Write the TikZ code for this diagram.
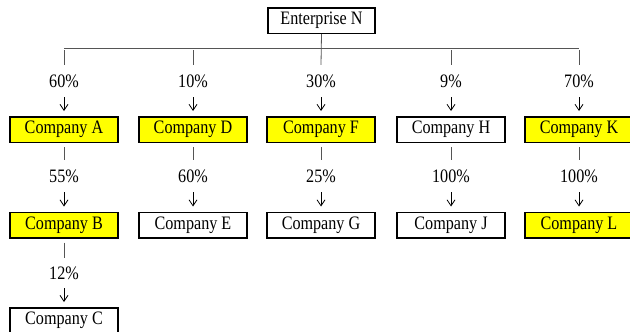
\documentclass[tikz,border=0pt]{standalone}
\usepackage{fontspec}
\setmainfont{Liberation Serif}[FakeStretch=0.85]
\usetikzlibrary{arrows.meta}
\definecolor{boxyellow}{HTML}{FFFF00}
\definecolor{tickgray}{HTML}{555555}
\tikzset{
  company/.style={draw=black, line width=1.5pt, minimum width=108pt, minimum height=25.5pt, inner sep=0pt, font=\fontsize{19}{22}\selectfont},
  owned/.style={company, fill=boxyellow},
  plain/.style={company, fill=white},
  pct/.style={inner sep=0pt, minimum height=32pt, font=\fontsize{19}{22}\selectfont},
  tickline/.style={draw=tickgray, line width=0.8pt},
  arrowline/.style={draw=black, line width=0.8pt, -{Straight Barb[length=6pt,width=8pt]}}
}
\begin{document}
\begin{tikzpicture}[x=1pt,y=-1pt]
\useasboundingbox (0,0) rectangle (630,332);
\clip (0,0) rectangle (630,332);
% top
\node[plain, minimum width=107pt] (N) at (321.5,20.5) {Enterprise N};
% row 1 labels
\node[pct] (pA) at (64,81) {60\%};
\node[pct] (pD) at (193,81) {10\%};
\node[pct] (pF) at (321,81) {30\%};
\node[pct] (pH) at (451,81) {9\%};
\node[pct] (pK) at (579,81) {70\%};
% row 1 boxes
\node[owned] (A) at (64,129.5) {Company A};
\node[owned] (D) at (193,129.5) {Company D};
\node[owned] (F) at (321,129.5) {Company F};
\node[plain] (H) at (451,129.5) {Company H};
\node[owned] (K) at (579,129.5) {Company K};
% row 2 labels
\node[pct] (pB) at (64,176) {55\%};
\node[pct] (pE) at (193,176) {60\%};
\node[pct] (pG) at (321,176) {25\%};
\node[pct] (pJ) at (451,176) {100\%};
\node[pct] (pL) at (579,176) {100\%};
% row 2 boxes
\node[owned] (B) at (64,225) {Company B};
\node[plain] (E) at (193,225) {Company E};
\node[plain] (G) at (321,225) {Company G};
\node[plain] (J) at (451,225) {Company J};
\node[owned] (L) at (579,225) {Company L};
% row 3
\node[pct, minimum height=30pt] (pC) at (64,273) {12\%};
\node[plain] (C) at (64,320.5) {Company C};
% bar
\coordinate (barL) at (64,48);
\coordinate (barR) at (579,48);
\draw[tickline] (barL) -- (barR);
\draw[tickline] (N.south) -- (pF.north);
\foreach \p in {pA,pD,pH,pK}{
  \draw[tickline] ([yshift=-2pt]\p.north |- barL) -- (\p.north);
}
% arrows row 1
\foreach \p/\c in {pA/A,pD/D,pF/F,pH/H,pK/K,pB/B,pE/E,pG/G,pJ/J,pL/L,pC/C}{
  \draw[arrowline, shorten >=5pt] (\p.south) -- (\c.north);
}
% ticks row 2 and 3
\foreach \c/\p in {A/pB,D/pE,F/pG,H/pJ,K/pL,B/pC}{
  \draw[tickline, shorten <=4pt] (\c.south) -- (\p.north);
}
\end{tikzpicture}
\end{document}
